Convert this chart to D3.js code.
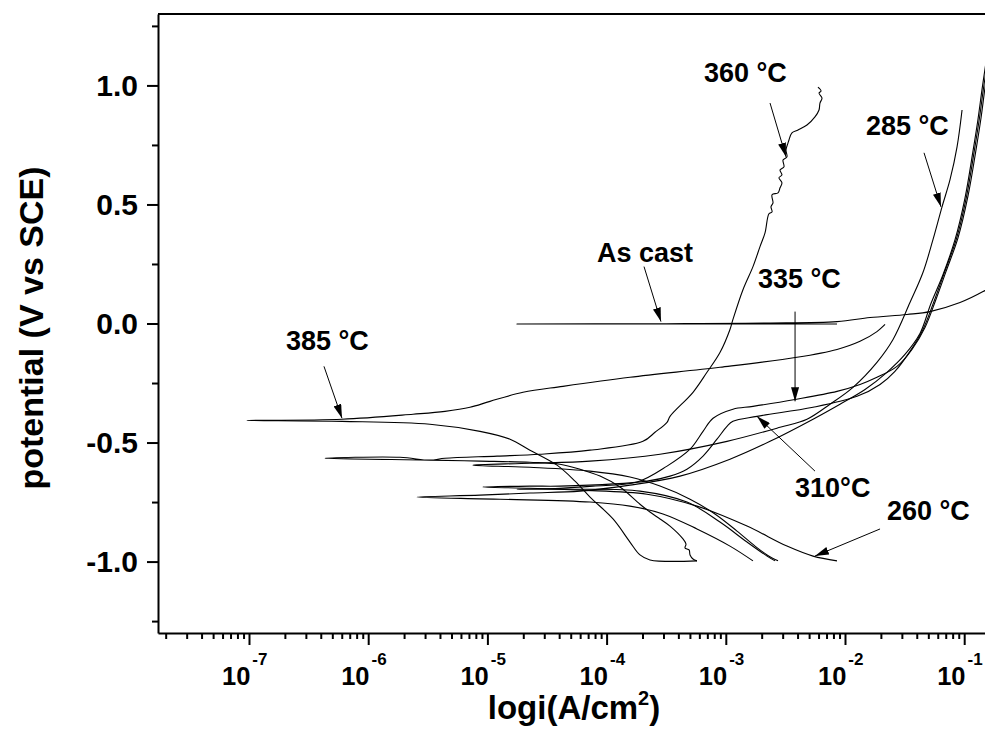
<!DOCTYPE html>
<html>
<head>
<meta charset="utf-8">
<script src="https://cdn.jsdelivr.net/npm/d3@7/dist/d3.min.js"></script>
<style>
  body { margin: 0; background: #fff; }
  svg { display: block; font-family: "Liberation Sans", Arial, sans-serif; font-weight: bold; }
</style>
</head>
<body>
<div id="chart"></div>
<script>
// polarization curves, each point is [log10(i in A/cm2), potential V vs SCE]
// cathodic branch from -1 V up to Ecorr, then the anodic branch
const asCast = [[-2.067,-0.002],[-3.5,-0.002],[-4.752,-0.002],[-3.5,-0.001],[-3.216,0.0],[-2.654,0.002],
  [-2.067,0.008],[-1.790,0.025],[-1.480,0.038],[-1.287,0.050],[-1.035,0.088],[-0.842,0.134],[-0.616,0.205]];

const t260 = [[-2.772,-0.997],[-2.965,-0.935],[-3.242,-0.863],[-3.527,-0.800],[-3.804,-0.767],[-4.139,-0.750],
  [-4.894,-0.738],[-5.591,-0.729],
  [-5.062,-0.721],[-4.643,-0.712],[-4.223,-0.704],[-3.804,-0.679],[-3.384,-0.641],[-2.965,-0.570],[-2.629,-0.495],
  [-2.268,-0.402],[-2.042,-0.339],[-1.832,-0.277],[-1.648,-0.205],[-1.497,-0.130],[-1.371,-0.042],[-1.279,0.084],
  [-1.178,0.205],[-1.077,0.352],[-0.993,0.528],[-0.926,0.725],[-0.884,0.859],[-0.851,0.981],[-0.817,1.098],[-0.792,1.190]];

const t285 = [[-2.562,-0.997],[-2.654,-0.972],[-2.755,-0.935],[-2.906,-0.872],[-3.091,-0.800],[-3.300,-0.738],
  [-3.552,-0.683],[-3.804,-0.645],[-4.139,-0.620],[-4.643,-0.604],[-5.121,-0.595],
  [-4.643,-0.587],[-4.139,-0.578],[-3.552,-0.549],[-2.990,-0.495],[-2.545,-0.436],[-2.319,-0.402],[-2.126,-0.339],
  [-1.933,-0.268],[-1.732,-0.163],[-1.597,-0.067],[-1.455,0.088],[-1.346,0.214],[-1.262,0.352],[-1.186,0.490],
  [-1.119,0.604],[-1.060,0.742],[-1.018,0.897]];

const t310 = [[-2.067,-0.997],[-2.268,-0.977],[-2.487,-0.935],[-2.822,-0.851],[-3.242,-0.767],[-3.661,-0.717],
  [-4.223,-0.700],[-4.643,-0.692],[-5.037,-0.687],
  [-4.643,-0.683],[-4.391,-0.683],[-3.661,-0.662],[-3.468,-0.641],[-3.326,-0.612],[-3.191,-0.557],[-3.074,-0.486],
  [-2.990,-0.432],[-2.940,-0.411],[-2.738,-0.390],[-2.268,-0.352],[-1.899,-0.306],[-1.706,-0.256],[-1.581,-0.201],
  [-1.455,-0.117],[-1.346,-0.025],[-1.254,0.092],[-1.166,0.214],[-1.065,0.356],[-0.981,0.532],[-0.914,0.729],
  [-0.872,0.863],[-0.839,0.985],[-0.805,1.100],[-0.780,1.190]];

const t335 = [[-2.587,-0.997],[-2.654,-0.977],[-2.822,-0.918],[-3.049,-0.834],[-3.326,-0.750],[-3.720,-0.704],
  [-4.223,-0.696],[-4.752,-0.696],
  [-4.391,-0.692],[-4.114,-0.683],[-3.745,-0.666],[-3.493,-0.599],[-3.300,-0.528],[-3.191,-0.453],[-3.107,-0.398],
  [-2.940,-0.360],[-2.772,-0.348],[-2.419,-0.319],[-2.067,-0.285],[-1.874,-0.256],[-1.732,-0.226],[-1.564,-0.180],
  [-1.438,-0.109],[-1.329,-0.017],[-1.237,0.101],[-1.153,0.218],[-1.052,0.360],[-0.968,0.536],[-0.901,0.729],
  [-0.859,0.863],[-0.826,0.989],[-0.792,1.106],[-0.767,1.190]];

const t360 = [[-3.242,-0.997],[-3.275,-0.989],[-3.300,-0.972],[-3.308,-0.951],[-3.342,-0.943],[-3.334,-0.926],
  [-3.359,-0.905],[-3.468,-0.851],[-3.552,-0.821],[-3.636,-0.792],[-3.720,-0.759],[-3.888,-0.687],[-4.055,-0.641],
  [-4.223,-0.612],[-4.391,-0.591],[-4.643,-0.583],[-5.062,-0.578],[-5.482,-0.574],[-6.362,-0.566],
  [-5.733,-0.562],[-5.482,-0.574],[-5.356,-0.566],[-4.919,-0.557],[-4.559,-0.549],[-4.139,-0.532],[-3.695,-0.495],
  [-3.594,-0.457],[-3.493,-0.415],[-3.468,-0.390],[-3.275,-0.289],[-3.158,-0.205],[-3.049,-0.122],[-2.965,-0.025],
  [-2.940,0.017],[-2.856,0.142],[-2.772,0.239],[-2.713,0.323],[-2.671,0.381],[-2.638,0.461],[-2.612,0.469],
  [-2.621,0.490],[-2.604,0.507],[-2.612,0.541],[-2.562,0.549],[-2.545,0.570],[-2.529,0.591],[-2.554,0.612],
  [-2.529,0.624],[-2.545,0.645],[-2.512,0.658],[-2.520,0.687],[-2.487,0.700],[-2.495,0.729],[-2.478,0.759],
  [-2.470,0.771],[-2.445,0.801],[-2.394,0.813],[-2.319,0.834],[-2.252,0.868],[-2.218,0.897],[-2.210,0.926],
  [-2.193,0.947],[-2.218,0.968],[-2.201,0.977],[-2.227,0.993]];

const t385 = [[-3.242,-0.997],[-3.636,-0.993],[-3.720,-0.972],[-3.804,-0.918],[-3.946,-0.821],[-4.139,-0.729],
  [-4.265,-0.662],[-4.416,-0.595],[-4.643,-0.532],[-4.810,-0.486],[-5.062,-0.453],[-5.482,-0.423],[-6.220,-0.411],
  [-7.017,-0.407],
  [-6.220,-0.402],[-5.624,-0.381],[-5.356,-0.369],[-5.146,-0.352],[-4.978,-0.327],[-4.701,-0.289],[-4.366,-0.264],
  [-3.804,-0.226],[-3.049,-0.184],[-2.403,-0.142],[-2.067,-0.109],[-1.874,-0.075],[-1.732,-0.034],[-1.664,-0.004]];

const curves = [asCast, t260, t285, t310, t335, t360, t385];

// labels with arrows: text corner, arrow start, arrow tip (same units as the curves)
const notes = [
  {text: "360 \u00B0C", at: [-3.183, 1.014], from: [-2.629, 0.926], to: [-2.495, 0.700]},
  {text: "285 \u00B0C", at: [-1.824, 0.792], from: [-1.337, 0.717], to: [-1.195, 0.490]},
  {text: "As cast",     at: [-4.081, 0.260], from: [-3.686, 0.239], to: [-3.544, 0.008]},
  {text: "335 \u00B0C", at: [-2.730, 0.151], from: [-2.419, 0.050], to: [-2.419, -0.327]},
  {text: "385 \u00B0C", at: [-6.690, -0.113], from: [-6.371, -0.180], to: [-6.220, -0.398]},
  {text: "310\u00B0C",  at: [-2.419, -0.729], from: [-2.252, -0.620], to: [-2.738, -0.390]},
  {text: "260 \u00B0C", at: [-1.648, -0.826], from: [-1.706, -0.863], to: [-2.252, -0.977]}
];

const yTicks = [-1.0, -0.5, 0.0, 0.5, 1.0];
const yMinor = [-1.25, -0.75, -0.25, 0.25, 0.75, 1.25];
const xDecades = [-7, -6, -5, -4, -3, -2, -1];

const width = 985, height = 731;
const plotLeft = 158, plotTop = 14, plotBottom = 633;
const plotRight = 1083.4; // frame goes past the right edge of the picture

const x = d3.scaleLog().domain([10 ** -7.7634, 1]).range([plotLeft, plotRight]);
const y = d3.scaleLinear().domain([-1.3, 1.3]).range([plotBottom, plotTop]);

const svg = d3.select("#chart").append("svg")
  .attr("width", width)
  .attr("height", height);

const defs = svg.append("defs");
defs.append("clipPath").attr("id", "plotclip")
  .append("rect").attr("x", plotLeft).attr("y", plotTop)
  .attr("width", plotRight - plotLeft).attr("height", plotBottom - plotTop);

defs.append("marker")
  .attr("id", "head")
  .attr("viewBox", "0 0 14 8")
  .attr("refX", 14).attr("refY", 4)
  .attr("markerWidth", 14).attr("markerHeight", 8)
  .attr("markerUnits", "userSpaceOnUse")
  .attr("orient", "auto")
  .append("path").attr("d", "M0,0 L14,4 L0,8 Z").attr("fill", "#000");

// curves
const line = d3.line()
  .x(d => x(10 ** d[0]))
  .y(d => y(d[1]))
  .curve(d3.curveCatmullRom.alpha(0.5));
svg.append("g").attr("clip-path", "url(#plotclip)")
  .selectAll("path").data(curves).enter().append("path")
  .attr("d", line)
  .attr("fill", "none")
  .attr("stroke", "#000")
  .attr("stroke-width", 1.1)
  .attr("stroke-linejoin", "round");

// frame top + right
svg.append("path")
  .attr("d", `M${plotLeft},${plotTop}H${plotRight}V${plotBottom}`)
  .attr("fill", "none").attr("stroke", "#000").attr("stroke-width", 2);

// y axis
const yAxis = svg.append("g").attr("transform", `translate(${plotLeft},0)`)
  .call(d3.axisLeft(y).tickValues(yTicks).tickSize(11).tickSizeOuter(0).tickPadding(9)
    .tickFormat(d => d.toFixed(1)));
svg.append("g").attr("transform", `translate(${plotLeft},0)`)
  .call(d3.axisLeft(y).tickValues(yMinor).tickSize(6).tickSizeOuter(0).tickFormat(""))
  .select(".domain").remove();
yAxis.selectAll("text")
  .attr("font-family", "Liberation Sans, Arial, sans-serif")
  .attr("font-weight", "bold")
  .attr("font-size", 30)
  .attr("fill", "#000");

// x axis
const xMinor = [];
for (let n = -8; n <= -1; n++) {
  for (let k = 2; k <= 9; k++) {
    const v = k * 10 ** n;
    if (v > x.domain()[0]) xMinor.push(v);
  }
}
svg.append("g").attr("transform", `translate(0,${plotBottom})`)
  .call(d3.axisBottom(x).tickValues(xDecades.map(d => 10 ** d)).tickSize(12).tickSizeOuter(0).tickFormat(""));
svg.append("g").attr("transform", `translate(0,${plotBottom})`)
  .call(d3.axisBottom(x).tickValues(xMinor).tickSize(6).tickSizeOuter(0).tickFormat(""))
  .select(".domain").remove();

svg.selectAll(".domain").attr("stroke-width", 2);
svg.selectAll(".tick line").attr("stroke-width", 2);

// decade labels: "10" plus a raised exponent, one text each
const xLab = svg.append("g").selectAll("text").data(xDecades).enter().append("text")
  .attr("x", d => x(10 ** d) - 27)
  .attr("y", 685)
  .attr("font-size", 25.5);
xLab.append("tspan").text("10");
xLab.append("tspan")
  .attr("dx", 2)
  .attr("dy", -20)
  .attr("font-size", 17)
  .text(d => String(d));

// axis titles
const xt = svg.append("text")
  .attr("x", 574).attr("y", 719)
  .attr("text-anchor", "middle")
  .attr("font-size", 33);
xt.append("tspan").text("logi(A/cm");
xt.append("tspan").attr("font-size", 20).attr("dy", -14).text("2");
xt.append("tspan").attr("dy", 14).text(")");

svg.append("text")
  .attr("transform", "translate(43,328) rotate(-90)")
  .attr("text-anchor", "middle")
  .attr("font-size", 34)
  .text("potential (V vs SCE)");

// annotations
const ann = svg.append("g");
ann.selectAll("line").data(notes).enter().append("line")
  .attr("x1", d => x(10 ** d.from[0])).attr("y1", d => y(d.from[1]))
  .attr("x2", d => x(10 ** d.to[0])).attr("y2", d => y(d.to[1]))
  .attr("stroke", "#000").attr("stroke-width", 1)
  .attr("marker-end", "url(#head)");
ann.selectAll("text").data(notes).enter().append("text")
  .attr("x", d => x(10 ** d.at[0]))
  .attr("y", d => y(d.at[1]))
  .attr("font-size", 27)
  .text(d => d.text);
</script>
</body>
</html>
